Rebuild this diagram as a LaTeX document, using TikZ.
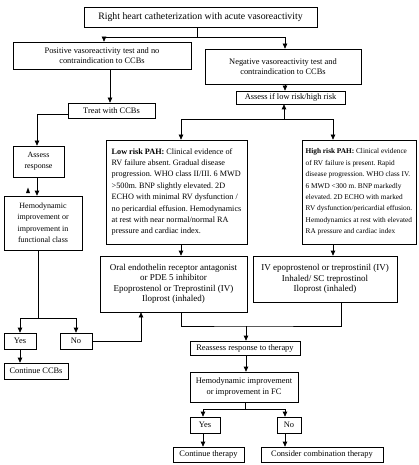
\documentclass[tikz,border=0pt]{standalone}
\usepackage{fontspec}
\setmainfont{Liberation Serif}
\usetikzlibrary{arrows.meta}
\begin{document}
\begin{tikzpicture}[x=1pt,y=-1pt,
  box/.style={draw, line width=0.7pt, inner sep=1pt, align=center, font=\fontsize{8.4}{10.5}\selectfont},
  riskbox/.style={draw, line width=0.7pt, inner sep=0pt, align=left},
  arr/.style={line width=0.7pt, -{Triangle[length=5pt,width=4.5pt]}},
  ln/.style={line width=0.7pt}]
\useasboundingbox (0,0) rectangle (418,465);
\frenchspacing
% nodes
\node[box, minimum width=233, minimum height=20, font=\fontsize{9.8}{11}\selectfont] (top) at (200.5,17) {Right heart catheterization with acute vasoreactivity};
\node[box, minimum width=178, minimum height=27] (pos) at (102,55.5) {Positive vasoreactivity test and no\\contraindication to CCBs};
\node[box, minimum width=156, minimum height=35] (neg) at (283,66.5) {Negative vasoreactivity test and\\contraindication to CCBs};
\node[box, minimum width=109, minimum height=13] (arisk) at (290.5,97.5) {Assess if low risk/high risk};
\node[box, minimum width=87, minimum height=15] (treat) at (111.5,110.5) {Treat with CCBs};
\node[box, minimum width=51, minimum height=31, font=\fontsize{8}{11}\selectfont] (aresp) at (38.5,161.5) {Assess\\response};
\node[box, minimum width=78, minimum height=54, font=\fontsize{8}{11.5}\selectfont] (hemo) at (43,223) {Hemodynamic\\improvement or\\improvement in\\functional class};
\node[box, minimum width=32, minimum height=16] (yesa) at (20,341) {Yes};
\node[box, minimum width=32, minimum height=16] (noa) at (76,341) {No};
\node[box, minimum width=64, minimum height=16] (contccb) at (36,371) {Continue CCBs};
\node[riskbox, minimum width=141, minimum height=104, font=\fontsize{8.2}{11.4}\selectfont] (low) at (176.5,192) {\textbf{Low risk PAH:} Clinical evidence of\\RV failure absent. Gradual disease\\progression. WHO class II/III. 6 MWD\\>500m. BNP slightly elevated. 2D\\ECHO with minimal RV dysfunction /\\no pericardial effusion. Hemodynamics\\at rest with near normal/normal RA\\pressure and cardiac index.};
\node[riskbox, minimum width=114, minimum height=104, font=\fontsize{7.3}{11.4}\selectfont] (high) at (359,192) {\textbf{High risk PAH:} Clinical evidence\\of RV failure is present. Rapid\\disease progression. WHO class IV.\\6 MWD <300 m. BNP markedly\\elevated. 2D ECHO with marked\\RV dysfunction/pericardial effusion.\\Hemodynamics at rest with elevated\\RA pressure and cardiac index};
\node[box, minimum width=147, minimum height=56, font=\fontsize{9}{10.5}\selectfont] (oral) at (173.5,284) {Oral endothelin receptor antagonist\\or PDE 5 inhibitor\\Epoprostenol or Treprostinil (IV)\\Iloprost (inhaled)};
\node[box, minimum width=144, minimum height=46, font=\fontsize{9}{10.5}\selectfont] (iv) at (325,279) {IV epoprostenol or treprostinil (IV)\\Inhaled/ SC treprostinol\\Iloprost (inhaled)};
\node[box, minimum width=110, minimum height=14] (reass) at (245,348) {Reassess response to therapy};
\node[box, minimum width=108, minimum height=30] (hemob) at (244,387) {Hemodynamic improvement\\or improvement in FC};
\node[box, minimum width=30, minimum height=16] (yesb) at (205,425) {Yes};
\node[box, minimum width=24, minimum height=16] (nob) at (289,425) {No};
\node[box, minimum width=71, minimum height=15] (contth) at (208.5,454.5) {Continue therapy};
\node[box, minimum width=122, minimum height=15] (cons) at (322,454.5) {Consider combination therapy};
% junction coordinates
\coordinate (j1) at (197,37);
\coordinate (xpos) at (104,0);
\coordinate (xneg) at (285,0);
\coordinate (xtreat) at (110,0);
\coordinate (xleft) at (37,0);
\coordinate (j2) at (38,318);
\coordinate (xno) at (141,0);
\coordinate (j3) at (284,119);
\coordinate (xlow) at (181,0);
\coordinate (xhigh) at (333,0);
\coordinate (xiv) at (341,0);
\coordinate (j4) at (246,326);
\coordinate (j5) at (245,409);
\coordinate (xyes) at (203,0);
\coordinate (xnob) at (285,0);
% connectors
\draw[ln] (j1 |- top.south) -- (j1);
\draw[arr] (j1) -| (xpos |- pos.north);
\draw[arr] (j1) -| (xneg |- neg.north);
\draw[arr] (xneg |- neg.south) -- (xneg |- arisk.north);
\draw[arr] (xtreat |- pos.south) -- (xtreat |- treat.north);
\draw[arr] ([yshift=-4pt]treat.west) -| (xleft |- aresp.north);
\draw[arr] (xleft |- aresp.south) -- (xleft |- hemo.north);
\fill (26,193) -- (30,193) -- (28,187.5) -- cycle;
\draw[ln] (j2 |- hemo.south) -- (j2);
\draw[arr] (j2) -| (yesa.north);
\draw[arr] (j2) -| (noa.north);
\draw[arr] (yesa.south) -- (yesa.south |- contccb.north);
\draw[arr] (noa.east) -| (xno |- oral.south);
\draw[arr] (j3) -- (j3 |- arisk.south);
\draw[arr] (j3) -| (xlow |- low.north);
\draw[arr] (j3) -| (xhigh |- high.north);
\draw[arr] (xlow |- low.south) -- (xlow |- oral.north);
\draw[arr] (xhigh |- high.south) -- (xhigh |- iv.north);
\draw[ln] (xlow |- oral.south) |- (j4) -| (xiv |- iv.south);
\draw[arr] (j4) -- (j4 |- reass.north);
\draw[arr] (j4 |- reass.south) -- (j4 |- hemob.north);
\draw[ln] (j5 |- hemob.south) -- (j5);
\draw[arr] (j5) -| (xyes |- yesb.north);
\draw[arr] (j5) -| (xnob |- nob.north);
\draw[arr] (xyes |- yesb.south) -- (xyes |- contth.north);
\draw[arr] (xnob |- nob.south) -- (xnob |- cons.north);
\end{tikzpicture}
\end{document}
